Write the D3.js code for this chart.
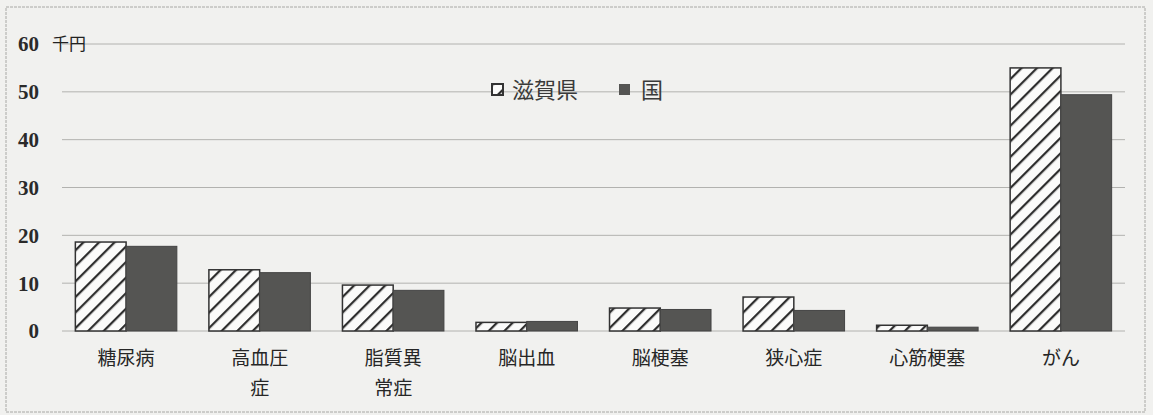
<!DOCTYPE html>
<html>
<head>
<meta charset="utf-8">
<script src="https://cdn.jsdelivr.net/npm/d3@7"></script>
<style>
  body { margin: 0; background: #f1f1ef; }
  svg { display: block; }
  .grid line { stroke: #b2b2af; stroke-width: 1; }
  .ytick { font-family: "Liberation Serif", "DejaVu Serif", serif; font-size: 21px; font-weight: bold; fill: #2a2a2a; }
  .xlab { font-family: "Noto Sans CJK JP", sans-serif; font-size: 19px; fill: #262626; }
</style>
</head>
<body>
<svg id="chart" width="1153" height="415"></svg>
<script>
// data
var categories = ["糖尿病", "高血圧症", "脂質異常症", "脳出血", "脳梗塞", "狭心症", "心筋梗塞", "がん"];
// label lines as printed
var catLines = [["糖尿病"], ["高血圧", "症"], ["脂質異", "常症"], ["脳出血"], ["脳梗塞"], ["狭心症"], ["心筋梗塞"], ["がん"]];
var shiga = [18.6, 12.8, 9.6, 1.8, 4.8, 7.1, 1.2, 55.0];
var kuni = [17.7, 12.2, 8.5, 2.0, 4.5, 4.3, 0.8, 49.4];
var yTicks = [0, 10, 20, 30, 40, 50, 60];
var seriesNames = ["滋賀県", "国"];

var plotL = 62, plotR = 1125, plotT = 44, plotB = 331;

var svg = d3.select("#chart");

// hatch pattern
var defs = svg.append("defs");
var pat = defs.append("pattern")
    .attr("id", "hatch")
    .attr("patternUnits", "userSpaceOnUse")
    .attr("width", 11).attr("height", 11)
    .attr("patternTransform", "rotate(45)");
pat.append("rect").attr("width", 11).attr("height", 11).attr("fill", "#fbfbfa");
pat.append("line").attr("x1", 0).attr("y1", 0).attr("x2", 0).attr("y2", 11)
    .attr("stroke", "#2e2e2e").attr("stroke-width", 4.5);

// outer frame
svg.append("rect")
    .attr("x", 6).attr("y", 7).attr("width", 1139).attr("height", 405)
    .attr("fill", "none").attr("stroke", "#a8a8a5").attr("stroke-width", 1)
    .attr("stroke-dasharray", "3,1");

var x0 = d3.scaleBand().domain(categories).range([plotL, plotR]).paddingInner(0.24).paddingOuter(0.1);
var x1 = d3.scaleBand().domain(seriesNames).range([0, x0.bandwidth()]);
var y = d3.scaleLinear().domain([0, 60]).range([plotB, plotT]);

// grid
svg.append("g").attr("class", "grid")
  .selectAll("line").data(yTicks).enter().append("line")
    .attr("x1", plotL).attr("x2", plotR)
    .attr("y1", function(d){ return y(d); }).attr("y2", function(d){ return y(d); });

// y tick labels
svg.append("g").selectAll("text").data(yTicks).enter().append("text")
    .attr("class", "ytick")
    .attr("x", 39).attr("y", function(d){ return y(d); })
    .attr("dy", "0.35em").attr("text-anchor", "end")
    .text(function(d){ return d; });

svg.append("text")
    .attr("x", 52).attr("y", y(60)).attr("dy", "0.35em")
    .style("font-family", "'Noto Sans CJK JP', sans-serif").style("font-size", "17px").style("fill", "#222")
    .text("千円");

// bars
var groups = svg.append("g").selectAll("g").data(categories).enter().append("g")
    .attr("transform", function(d){ return "translate(" + x0(d) + ",0)"; });

groups.append("rect")
    .attr("x", x1("滋賀県")).attr("width", x1.bandwidth())
    .attr("y", function(d, i){ return y(shiga[i]); })
    .attr("height", function(d, i){ return y(0) - y(shiga[i]); })
    .attr("fill", "url(#hatch)").attr("stroke", "#333").attr("stroke-width", 1.5);

groups.append("rect")
    .attr("x", x1("国")).attr("width", x1.bandwidth())
    .attr("y", function(d, i){ return y(kuni[i]); })
    .attr("height", function(d, i){ return y(0) - y(kuni[i]); })
    .attr("fill", "#555553").attr("stroke", "#444").attr("stroke-width", 1);

// category labels
groups.each(function(d, i){
  var g = d3.select(this);
  catLines[i].forEach(function(line, k){
    g.append("text").attr("class", "xlab")
      .attr("x", x0.bandwidth() / 2).attr("y", 365 + k * 30)
      .attr("text-anchor", "middle")
      .text(line);
  });
});

// legend
var leg = svg.append("g");
leg.append("rect").attr("x", 492).attr("y", 84).attr("width", 11).attr("height", 11)
    .attr("fill", "url(#hatch)").attr("stroke", "#333").attr("stroke-width", 2);
leg.append("text").attr("x", 512).attr("y", 90).attr("dy", "0.35em")
    .style("font-family", "'Noto Sans CJK JP', sans-serif").style("font-size", "22px").style("fill", "#3a3a3a")
    .text("滋賀県");
leg.append("rect").attr("x", 619).attr("y", 84).attr("width", 11).attr("height", 11)
    .attr("fill", "#555553");
leg.append("text").attr("x", 641).attr("y", 90).attr("dy", "0.35em")
    .style("font-family", "'Noto Sans CJK JP', sans-serif").style("font-size", "22px").style("fill", "#3a3a3a")
    .text("国");
</script>
</body>
</html>
